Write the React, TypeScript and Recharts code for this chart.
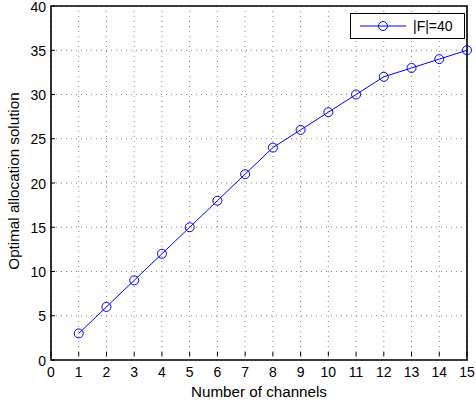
import React from "react";
import {
  LineChart,
  Line,
  XAxis,
  YAxis,
  CartesianGrid,
  ReferenceArea,
} from "recharts";

const channels = [1, 2, 3, 4, 5, 6, 7, 8, 9, 10, 11, 12, 13, 14, 15];
const allocation = [3, 6, 9, 12, 15, 18, 21, 24, 26, 28, 30, 32, 33, 34, 35];
const xTicks = [0, 1, 2, 3, 4, 5, 6, 7, 8, 9, 10, 11, 12, 13, 14, 15];
const yTicks = [0, 5, 10, 15, 20, 25, 30, 35, 40];
const seriesName = "|F|=40";

const data = channels.map((c, i) => ({ x: c, y: allocation[i] }));

const FONT = "'Liberation Sans', Arial, Helvetica, sans-serif";
const BLUE = "#0000ff";
const TICK_FS = 14;
const LABEL_FS = 15.2;

const XTick = (props: any) => {
  const { x, y, payload } = props;
  return (
    <g>
      <line x1={x} y1={y - 4} x2={x} y2={y - 8} stroke="#000" strokeWidth={1} />
      <text x={x} y={y} dy={16.5} textAnchor="middle" fontSize={TICK_FS} fontFamily={FONT} fill="#000">
        {payload.value}
      </text>
    </g>
  );
};

const YTick = (props: any) => {
  const { x, y, payload } = props;
  return (
    <g>
      <line x1={x + 5} y1={y} x2={x + 9} y2={y} stroke="#000" strokeWidth={1} />
      <text x={x} y={y} dy={5.5} textAnchor="end" fontSize={TICK_FS} fontFamily={FONT} fill="#000">
        {payload.value}
      </text>
    </g>
  );
};

const TopTick = (props: any) => {
  const { x, y } = props;
  return <line x1={x} y1={y} x2={x} y2={y + 4} stroke="#000" strokeWidth={1} />;
};

const RightTick = (props: any) => {
  const { x, y } = props;
  return <line x1={x} y1={y} x2={x - 4} y2={y} stroke="#000" strokeWidth={1} />;
};

const LegendBox = () => (
  <svg width={116} height={27} style={{ display: "block" }}>
    <rect x={0.5} y={0.5} width={114} height={25} fill="#fff" stroke="#000" strokeWidth={1} />
    <line x1={10} y1={13} x2={56} y2={13} stroke={BLUE} strokeWidth={1} />
    <circle cx={33} cy={13} r={4.5} fill="none" stroke={BLUE} strokeWidth={1} />
    <text x={63} y={18} fontSize={14} fontFamily={FONT} fill="#000">
      {seriesName}
    </text>
  </svg>
);

export default function App() {
  return (
    <div style={{ position: "absolute", left: 0, top: 0, width: 476, height: 405, background: "#fff" }}>
      <LineChart
        width={476}
        height={405}
        data={data}
        margin={{ top: 6, right: 9, bottom: 15, left: 0 }}
      >
        <CartesianGrid
          xAxisId="b"
          yAxisId="l"
          stroke="#888"
          strokeDasharray="1 4"
          strokeWidth={1}
          verticalValues={xTicks}
          horizontalValues={yTicks}
        />
        <XAxis
          xAxisId="b"
          dataKey="x"
          type="number"
          domain={[0, 15]}
          ticks={xTicks}
          interval={0}
          tickSize={0}
          tickMargin={0}
          tickLine={false}
          axisLine={false}
          tick={<XTick />}
          height={30}
          label={(p: any) => {
            const vb = p.viewBox || {};
            const cx = (vb.x ?? 51) + (vb.width ?? 416) / 2;
            return (
              <text
                x={cx}
                y={396.5}
                textAnchor="middle"
                fontSize={LABEL_FS}
                fontFamily={FONT}
                fill="#000"
              >
                Number of channels
              </text>
            );
          }}
        />
        <XAxis
          xAxisId="t"
          orientation="top"
          dataKey="x"
          type="number"
          domain={[0, 15]}
          ticks={xTicks}
          interval={0}
          tickSize={0}
          tickMargin={0}
          tickLine={false}
          axisLine={false}
          tick={<TopTick />}
          height={0}
        />
        <YAxis
          yAxisId="l"
          type="number"
          domain={[0, 40]}
          ticks={yTicks}
          interval={0}
          tickSize={0}
          tickMargin={5}
          tickLine={false}
          axisLine={false}
          tick={<YTick />}
          width={51}
          label={(p: any) => {
            const vb = p.viewBox || {};
            const cy = (vb.y ?? 6) + (vb.height ?? 354) / 2 - 2;
            return (
              <text
                x={13}
                y={cy}
                transform={`rotate(-90, 13, ${cy})`}
                textAnchor="middle"
                dominantBaseline="central"
                fontSize={LABEL_FS}
                fontFamily={FONT}
                fill="#000"
              >
                Optimal allocation solution
              </text>
            );
          }}
        />
        <YAxis
          yAxisId="r"
          orientation="right"
          type="number"
          domain={[0, 40]}
          ticks={yTicks}
          interval={0}
          tickSize={0}
          tickMargin={0}
          tickLine={false}
          axisLine={false}
          tick={<RightTick />}
          width={0}
        />
        <ReferenceArea
          xAxisId="b"
          yAxisId="l"
          x1={0}
          x2={15}
          y1={0}
          y2={40}
          fill="none"
          stroke="#000"
          strokeWidth={1.6}
          ifOverflow="visible"
        />
        <Line
          xAxisId="b"
          yAxisId="l"
          type="linear"
          dataKey="y"
          name={seriesName}
          stroke={BLUE}
          strokeWidth={1}
          dot={{ r: 4.5, fill: "none", stroke: BLUE, strokeWidth: 1 }}
          activeDot={false}
          isAnimationActive={false}
        />
      </LineChart>
      <div style={{ position: "absolute", left: 350, top: 13 }}>
        <LegendBox />
      </div>
    </div>
  );
}
